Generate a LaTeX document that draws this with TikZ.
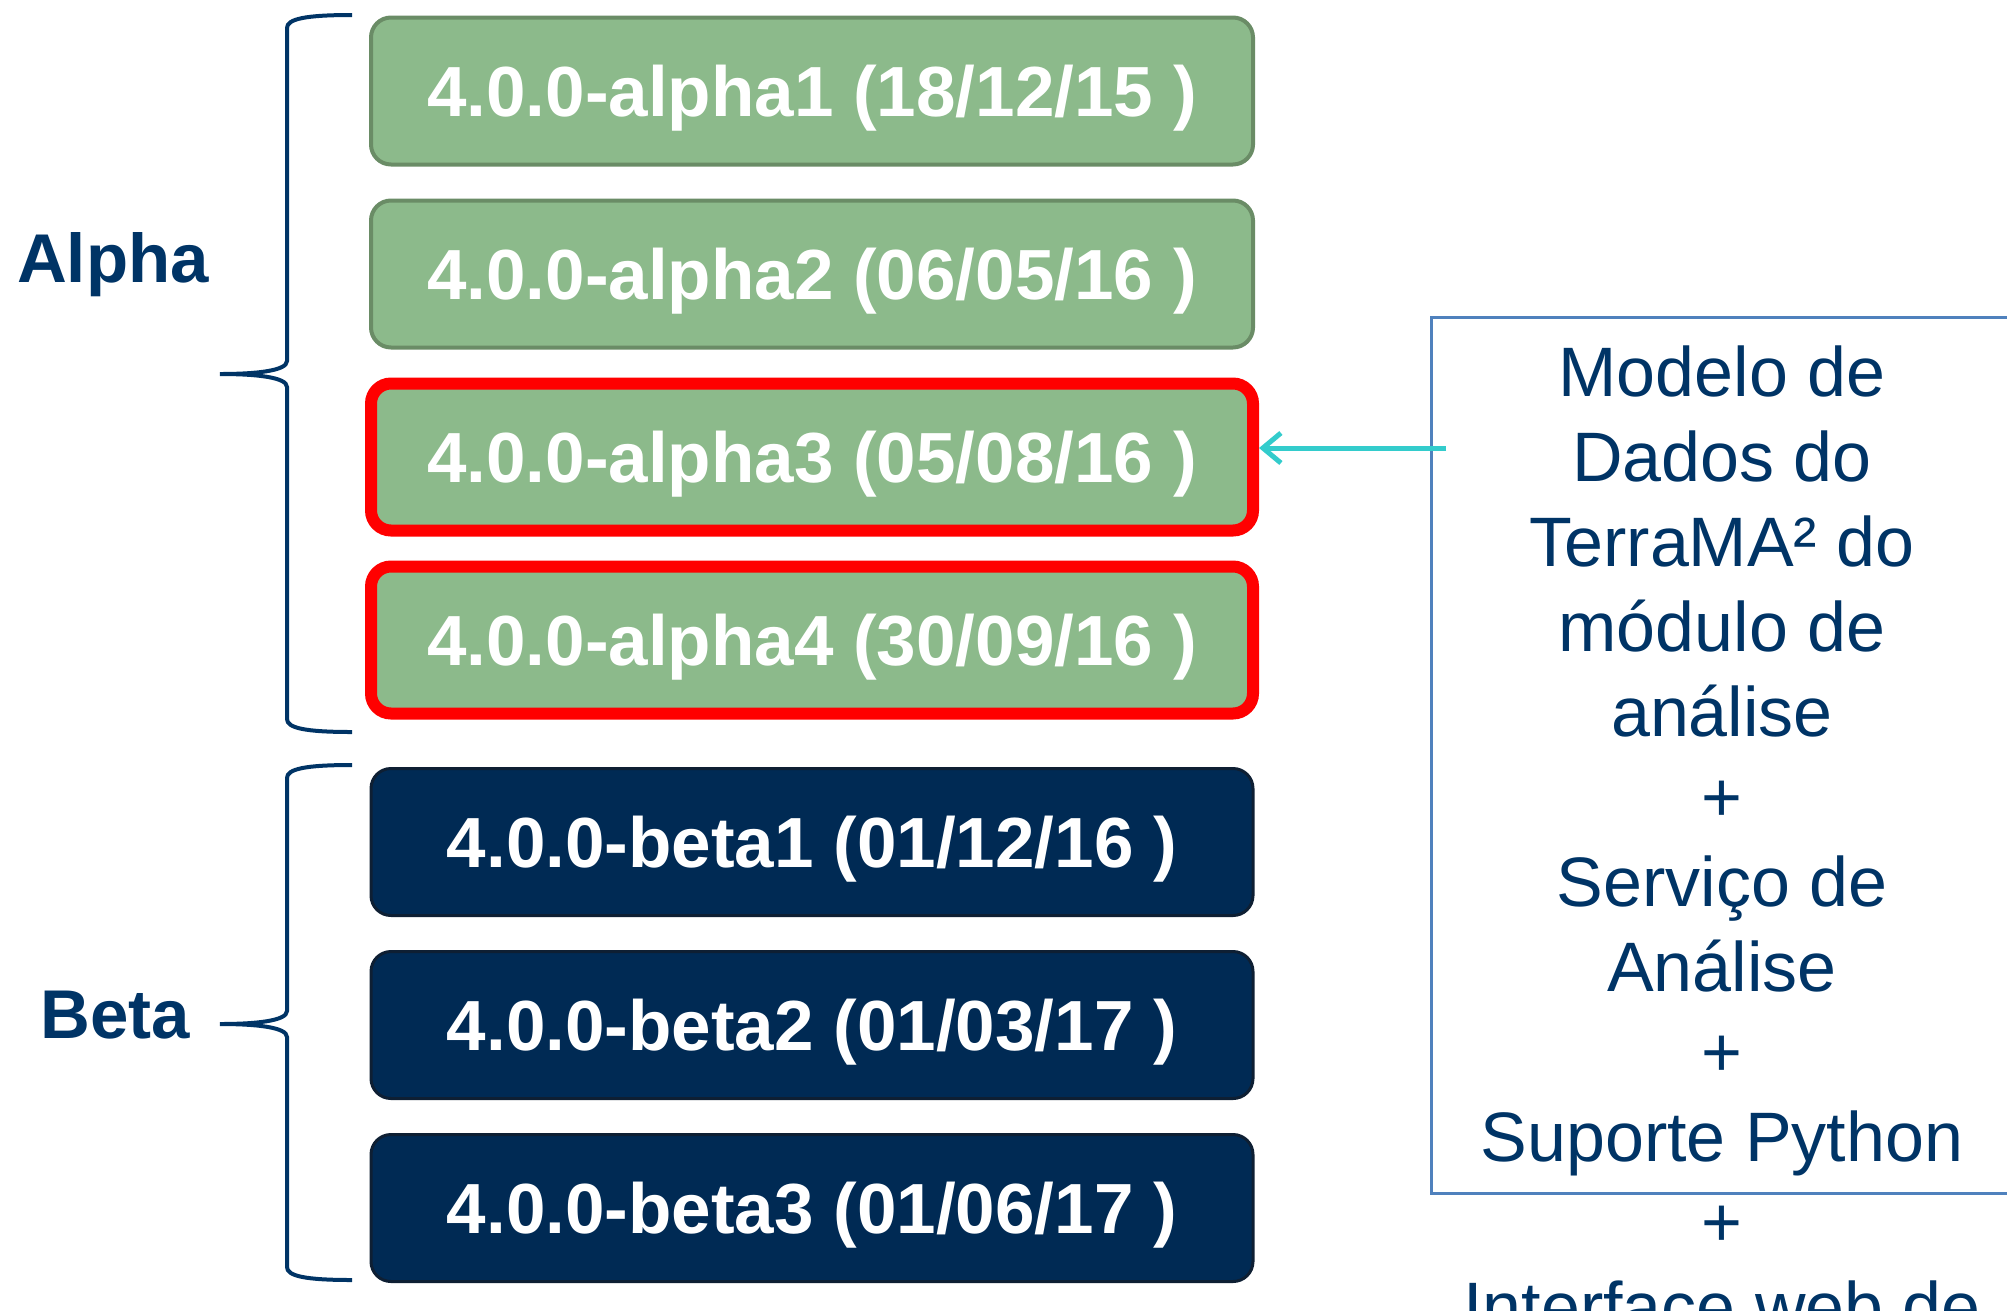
\documentclass[tikz,border=0pt]{standalone}
\usepackage{fontspec}
\setmainfont{Liberation Sans}
\usetikzlibrary{arrows.meta,positioning}

\definecolor{boxgreen}{RGB}{140,186,139}
\definecolor{edgegreen}{RGB}{106,140,102}
\definecolor{boxnavy}{RGB}{0,42,84}
\definecolor{edgenavy}{RGB}{14,31,51}
\definecolor{labelnavy}{RGB}{0,52,102}
\definecolor{frameblue}{RGB}{79,129,189}
\definecolor{arrowcyan}{RGB}{51,204,204}

\begin{document}
\begin{tikzpicture}[x=1pt,y=-1pt,node distance=183pt,
    release/.style={rectangle, rounded corners=20pt, minimum width=882pt,
      minimum height=147pt, inner sep=0pt, text=white, text depth=0pt,
      font=\fontsize{71}{84}\selectfont\bfseries},
    alphabox/.style={release, fill=boxgreen, draw=edgegreen, line width=4pt},
    markedbox/.style={release, fill=boxgreen, draw=red, line width=12pt},
    betabox/.style={release, fill=boxnavy, draw=edgenavy, line width=3pt},
    phaselabel/.style={text=labelnavy, font=\fontsize{69}{84}\selectfont\bfseries},
    curly/.style={draw=labelnavy, line width=4pt},
    pointer/.style={draw=arrowcyan, line width=5pt, -{Straight Barb[length=18pt,width=30pt]}}]

  \useasboundingbox (0,0) rectangle (2007,1310);
  \clip (0,0) rectangle (2007,1310);

  % releases
  \node[alphabox]  (a1) at (812,91) {4.0.0-alpha1 (18/12/15 )};
  \node[alphabox]  (a2) [below of=a1] {4.0.0-alpha2 (06/05/16 )};
  \node[markedbox] (a3) [below of=a2] {4.0.0-alpha3 (05/08/16 )};
  \node[markedbox] (a4) [below of=a3] {4.0.0-alpha4 (30/09/16 )};
  \node[betabox]   (b1) [node distance=202pt, below of=a4] {4.0.0-beta1 (01/12/16 )};
  \node[betabox]   (b2) [below of=b1] {4.0.0-beta2 (01/03/17 )};
  \node[betabox]   (b3) [below of=b2] {4.0.0-beta3 (01/06/17 )};

  % groups
  \node[phaselabel] (alpha) at (113,265) {Alpha};
  \node[phaselabel] (beta)  at (115,1015) {Beta};
  \draw[curly] (352,15) .. controls (305,15) and (287,19) .. (287,28)
    -- (287,361) .. controls (287,371) and (255,374) .. (220,374)
    .. controls (255,374) and (287,377) .. (287,387)
    -- (287,719) .. controls (287,728) and (305,732) .. (352,732);
  \draw[curly] (352,765) .. controls (305,765) and (287,769) .. (287,778)
    -- (287,1011) .. controls (287,1021) and (255,1024) .. (220,1024)
    .. controls (255,1024) and (287,1027) .. (287,1037)
    -- (287,1267) .. controls (287,1276) and (305,1280) .. (352,1280);

  % notes
  \node (frame) [draw=frameblue, line width=2.5pt, inner sep=0pt, anchor=north west,
    minimum width=600pt, minimum height=876pt] at (1430,316) {};
  \node (notes) [anchor=north, inner sep=0pt, align=center, text=labelnavy,
    font=\fontsize{70}{85}\selectfont] at (1722,346)
    {Modelo de\\Dados do\\TerraMA² do\\módulo de\\análise\\+\\Serviço de\\Análise\\+\\Suporte Python\\+\\Interface web de};
  \coordinate (src) at ([xshift=16pt,yshift=-132pt]frame.north west);
  \draw[pointer] (src) -- (src -| a3.east);
\end{tikzpicture}
\end{document}
